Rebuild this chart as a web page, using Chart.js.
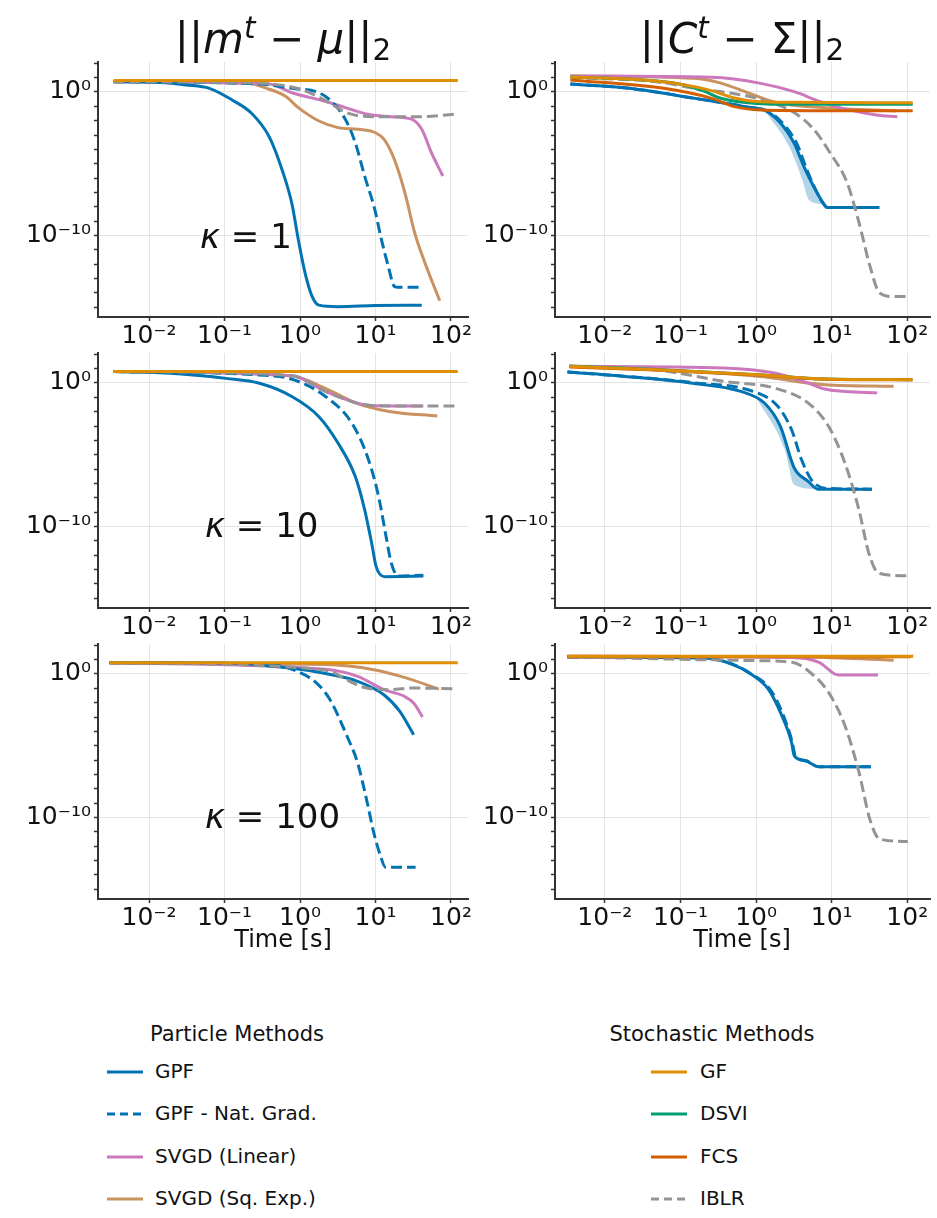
<!DOCTYPE html>
<html><head><meta charset="utf-8">
<script src="https://cdn.jsdelivr.net/npm/chart.js@4.4.1/dist/chart.umd.min.js"></script>
<style>
html,body{margin:0;padding:0;background:#fff;}
body{width:937px;height:1218px;position:relative;overflow:hidden;font-family:'DejaVu Sans',sans-serif;color:#111;}
canvas{position:absolute;}
.ttl{position:absolute;width:400px;text-align:center;font-size:42px;line-height:1;white-space:nowrap;}
.ttl sup{font-size:0.7em;vertical-align:0.5em;line-height:0;font-style:italic;}
.ttl sub{font-size:0.7em;vertical-align:-0.25em;line-height:0;}
.kap{position:absolute;font-size:34px;line-height:1;white-space:nowrap;}
.xt{position:absolute;width:300px;text-align:center;font-size:24px;line-height:1;}
.lgt{position:absolute;font-size:21px;line-height:1;white-space:nowrap;}
.lgi{position:absolute;font-size:20px;line-height:1;white-space:nowrap;}
.lgl{position:absolute;}
</style></head>
<body>
<canvas id="c00" width="500" height="320" style="left:0;top:42px"></canvas>
<canvas id="c01" width="477" height="320" style="left:460px;top:42px"></canvas>
<canvas id="c10" width="500" height="320" style="left:0;top:333px"></canvas>
<canvas id="c11" width="477" height="320" style="left:460px;top:333px"></canvas>
<canvas id="c20" width="500" height="320" style="left:0;top:624px"></canvas>
<canvas id="c21" width="477" height="320" style="left:460px;top:624px"></canvas>

<div class="ttl" style="left:83px;top:18px">||<i>m</i><sup>t</sup> − <i>μ</i>||<sub>2</sub></div>
<div class="ttl" style="left:542px;top:18px">||<i>C</i><sup>t</sup> − Σ||<sub>2</sub></div>

<div class="kap" style="left:200px;top:219px"><i>κ</i> = 1</div>
<div class="kap" style="left:205px;top:508px"><i>κ</i> = 10</div>
<div class="kap" style="left:205px;top:799px"><i>κ</i> = 100</div>

<div class="xt" style="left:133px;top:927px">Time [s]</div>
<div class="xt" style="left:592px;top:927px">Time [s]</div>

<div id="legend"></div>

<script>
// ---------- tick values / labels ----------
const X_TICK_VALUES = [0.01, 0.1, 1, 10, 100];
const X_TICK_LABELS = ['10⁻²', '10⁻¹', '10⁰', '10¹', '10²'];
const Y_TICK_VALUES = [1e-15,1e-14,1e-13,1e-12,1e-11,1e-10,1e-9,1e-8,1e-7,1e-6,1e-5,1e-4,1e-3,1e-2,1e-1,1,10,100];
const Y_TICK_LABELS = ['','','','','','10⁻¹⁰','','','','','','','','','','10⁰','',''];

// ---------- series: [time (s), error] ----------
// kappa = 1, mean error
const GF_K1_M    = [[0.0034,6.2],[1,6.2],[123,6.2]];
const GPF_K1_M   = [[0.0034,5.2],[0.014,4.6],[0.031,3.1],[0.063,1.8],[0.126,0.28],[0.23,0.032],[0.39,7.8e-4],[0.58,3.7e-6],[0.78,1.7e-8],[0.95,5e-11],[1.17,2.3e-13],[1.45,5.5e-15],[1.78,1.4e-15],[3.2,1.1e-15],[10,1.3e-15],[41,1.4e-15]];
const GPFN_K1_M  = [[0.0034,5.2],[0.29,3.6],[0.78,1.8],[1.78,0.89],[2.6,0.23],[4.0,0.012],[5.4,2.9e-4],[7.2,1.3e-6],[9.8,6.3e-9],[12,5e-11],[14.8,6.8e-13],[17.8,2.8e-14],[20,2.5e-14],[41,2.5e-14]];
const SVGDL_K1_M = [[0.0034,5.2],[0.39,3.6],[0.78,0.89],[2.1,0.23],[4.0,0.081],[7.9,0.028],[16,0.019],[30,0.013],[41,2.5e-3],[55,5.9e-5],[78,1.4e-6]];
const SVGDS_K1_M = [[0.0034,5.2],[0.2,4.0],[0.36,1.8],[0.65,0.48],[0.95,0.081],[1.78,9.5e-3],[3.2,3.3e-3],[5.9,2.5e-3],[9.8,1.5e-3],[13,5e-4],[17.8,2e-5],[24.5,9.8e-8],[33,1.6e-10],[45,1.3e-12],[71,2.8e-15]];
const IBLR_K1_M  = [[0.0034,5.2],[0.3,4.0],[1,1.6],[2,0.32],[4.4,0.032],[9.8,0.019],[40,0.019],[110,0.028]];

// kappa = 1, covariance error
const GF_K1_C    = [[0.0035,11],[0.03,7],[0.1,3.5],[0.25,1.3],[0.5,0.4],[1,0.22],[3,0.19],[118,0.18]];
const DSVI_K1_C  = [[0.0035,11],[0.03,7],[0.1,3.5],[0.2,1.2],[0.35,0.35],[1,0.16],[3,0.14],[118,0.14]];
const FCS_K1_C   = [[0.0035,6.9],[0.06,1.8],[0.26,0.36],[0.52,0.095],[1.15,0.056],[10,0.05],[118,0.05]];
const SVGDL_K1_C = [[0.0035,13],[0.26,10.5],[1.15,4],[3.2,1.05],[7.1,0.21],[14,0.072],[39,0.025],[74,0.019]];
const SVGDS_K1_C = [[0.0035,13],[0.15,9],[0.35,4],[0.78,0.89],[1.9,0.18],[8.7,0.081],[71,0.048]];
const IBLR_K1_C  = [[0.0035,10],[0.05,5],[0.19,1.45],[0.43,0.89],[1.15,0.31],[3.2,0.036],[5.8,2.5e-3],[9.5,5.9e-5],[16,4.8e-7],[23,7.9e-10],[32,7.9e-13],[43,1e-14],[65,5.5e-15],[107,5.5e-15]];
const GPF_K1_C   = [[0.0035,3.6],[0.021,1.8],[0.155,0.36],[0.71,0.095],[1.41,0.043],[2.3,3.9e-3],[3.2,2.6e-4],[4.3,6.3e-6],[5.8,2.5e-7],[7.8,1.7e-8],[8.7,8.9e-9],[43,8.9e-9]];
const GPFN_K1_C  = [[0.0035,3.6],[0.021,1.8],[0.155,0.36],[0.71,0.095],[1.5,0.04],[2.5,3.5e-3],[3.5,2.2e-4],[4.6,5e-6],[6.0,2e-7],[7.8,1.6e-8],[8.9,8.9e-9],[40,8.9e-9]];
const BAND_K1_C  = [[1.3,0.05],[2.75,1.5e-4],[4.1,7.4e-7],[5.0,3e-8],[7.5,1.5e-8],[8.7,8.9e-9]];

// kappa = 10, mean error
const GF_K10_M    = [[0.0034,6.2],[1,6.2],[123,6.2]];
const GPF_K10_M   = [[0.0034,6.2],[0.01,5.6],[0.038,3.6],[0.105,2.1],[0.29,0.95],[0.79,0.11],[1.78,4.5e-3],[3.2,6.3e-5],[5.4,3e-7],[7.2,1.4e-9],[8.9,6.8e-12],[10.2,1.6e-13],[13.2,3.2e-14],[43,3.5e-14]];
const GPFN_K10_M  = [[0.0034,6.2],[0.29,3.6],[0.79,1.8],[2.2,0.11],[4.9,1.5e-3],[8.1,4.3e-6],[11,1.2e-8],[13.8,2e-11],[16.2,2.8e-13],[20,3.5e-14],[43,4e-14]];
const SVGDL_K10_M = [[0.0034,6.2],[0.79,3.2],[2.2,0.25],[5.9,0.038],[9.8,0.026],[43,0.025]];
const SVGDS_K10_M = [[0.0034,6.2],[0.79,3.1],[2.2,0.4],[5.9,0.035],[16,0.01],[66,5e-3]];
const IBLR_K10_M  = [[0.0034,6.2],[0.79,3.2],[2.2,0.25],[5.9,0.038],[10,0.026],[43,0.025],[112,0.025]];

// kappa = 10, covariance error
const GF_K10_C    = [[0.0034,14.5],[0.049,8.5],[1.05,3.8],[8.1,1.9],[117,1.7]];
const DSVI_K10_C  = [[0.0034,15],[0.049,8.6],[1.05,3.8],[8.1,1.9],[117,1.7]];
const FCS_K10_C   = [[0.0034,13],[0.049,8],[1.05,3.6],[8.1,1.85],[117,1.65]];
const SVGDL_K10_C = [[0.0034,14.5],[0.38,11.2],[1.74,5],[4.9,1],[8.1,0.38],[40,0.2]];
const SVGDS_K10_C = [[0.0034,14.5],[1.05,2.95],[8.1,0.76],[66,0.59]];
const GPF_K10_C   = [[0.0032,5.9],[0.017,2.95],[0.135,1],[0.63,0.26],[1.29,0.04],[2.1,9.5e-4],[3.2,1.2e-6],[4.9,1.4e-7],[6.6,4e-8],[34,4e-8]];
const GPFN_K10_C  = [[0.0032,5.9],[0.135,1.1],[1.05,0.2],[1.95,0.023],[2.95,5.5e-4],[4.0,4.5e-6],[5.4,1.8e-7],[8.1,4.7e-8],[34,4e-8]];
const BAND_K10_C  = [[1.0,0.1],[2.4,2.2e-5],[3.2,8.1e-8],[6.6,4e-8]];
const IBLR_K10_C  = [[0.0034,14.5],[0.05,7.9],[0.38,1.3],[1.74,0.45],[4.9,0.04],[9.1,9.5e-4],[15,2.6e-6],[23,1.4e-9],[31,1.4e-12],[42,5.5e-14],[105,3.6e-14]];

// kappa = 100, mean error
const GF_K100_M    = [[0.003,6.0],[1,6.0],[123,6.0]];
const GPF_K100_M   = [[0.003,6.0],[0.095,5.9],[0.74,2.6],[2.0,1.17],[5.8,0.31],[12.9,0.036],[21,2.5e-3],[32,5.9e-5]];
const GPFN_K100_M  = [[0.003,6.0],[0.44,4.5],[0.91,1.55],[1.66,0.23],[2.5,0.016],[4.2,4.6e-5],[5.8,6.3e-7],[7.8,1e-9],[9.5,8.3e-12],[11.7,2e-13],[13.5,3.4e-14],[34,3.4e-14]];
const SVGDL_K100_M = [[0.003,6.0],[2.0,2.2],[5.8,0.69],[12.9,0.081],[24,0.028],[32,9.5e-3],[42,1e-3]];
const SVGDS_K100_M = [[0.003,6.0],[2.0,4.5],[9.5,2.0],[26,0.52],[69,0.089]];
const IBLR_K100_M  = [[0.003,6.0],[2.0,2.0],[6.9,0.12],[16,0.081],[30,0.105],[110,0.095]];

// kappa = 100, covariance error
const GF_K100_C    = [[0.0032,17],[1,17],[120,17]];
const DSVI_K100_C  = [[0.0032,16.5],[1,16.5],[110,16.5]];
const FCS_K100_C   = [[0.0032,16],[1,16],[110,16]];
const SVGDS_K100_C = [[0.0032,17],[3.2,16],[66,9]];
const SVGDL_K100_C = [[0.0032,17],[3.0,14],[6.8,6.5],[12.3,0.85],[41,0.85]];
const GPF_K100_C   = [[0.0032,15.5],[0.22,12.3],[0.47,5],[0.85,1],[1.45,0.089],[2.1,2.1e-3],[2.95,1.7e-5],[3.2,2e-6],[4.5,8.9e-7],[6.8,3.4e-7],[33,3.4e-7]];
const GPFN_K100_C  = [[0.0032,15.5],[0.22,12.3],[0.47,5.2],[0.85,1.05],[1.5,0.1],[2.2,2.3e-3],[3.0,1.9e-5],[3.3,2e-6],[4.6,8.9e-7],[6.8,3.4e-7],[33,3.4e-7]];
const IBLR_K100_C  = [[0.0032,15.5],[1.05,8.5],[3.0,6.5],[5.5,1],[9.1,0.052],[15,2.5e-4],[23,1.4e-7],[32,7.6e-11],[43,3.2e-12],[102,2.1e-12]];

// ---------- styling ----------
const FONT = "'DejaVu Sans', sans-serif";
const COLORS = {GPF:'#0173b2', GPFN:'#0173b2', GF:'#de8f05', DSVI:'#029e73', FCS:'#d55e00', SVGDL:'#cc78bc', SVGDS:'#ca9161', IBLR:'#949494'};
const DASHED = {GPFN:true, IBLR:true};
const ORDER = {GF:1, DSVI:3, FCS:2, IBLR:4, GPF:5, GPFN:6, SVGDL:7, SVGDS:8};
const NAMES = {GPF:'GPF', GPFN:'GPF - Nat. Grad.', SVGDL:'SVGD (Linear)', SVGDS:'SVGD (Sq. Exp.)', GF:'GF', DSVI:'DSVI', FCS:'FCS', IBLR:'IBLR'};

const X_RANGE_LEFT  = [0.00211, 168];
const X_RANGE_RIGHT = [0.00219, 200];
const Y_RANGE = [2.09e-16, 123];

function toXY(arr){ return arr.map(p => ({x:p[0], y:p[1]})); }
function lineDs(key, arr){
  return {label:NAMES[key], data:toXY(arr), borderColor:COLORS[key], backgroundColor:COLORS[key],
    borderDash: DASHED[key] ? [11,5] : [], borderWidth:3, pointRadius:0, fill:false,
    order:ORDER[key], cubicInterpolationMode:'monotone', borderCapStyle:'butt'};
}
function bandDs(arr, target){
  return {label:'band', data:toXY(arr), borderColor:'rgba(0,0,0,0)', borderWidth:0, pointRadius:0,
    backgroundColor:'rgba(1,115,178,0.3)', fill:target, order:50, cubicInterpolationMode:'monotone'};
}

function panel(id, col, series, band){
  const ds = [];
  let gpfIdx = -1;
  series.forEach(([key, arr]) => { if (key === 'GPF') gpfIdx = ds.length; ds.push(lineDs(key, arr)); });
  if (band) ds.push(bandDs(band, gpfIdx));
  const xr = col === 0 ? X_RANGE_LEFT : X_RANGE_RIGHT;
  const yWidth = col === 0 ? 98 : 95;
  const padRight = col === 0 ? 32 : 7;
  new Chart(document.getElementById(id), {
    type:'line',
    data:{datasets:ds},
    options:{
      responsive:false, animation:false, events:[],
      layout:{padding:{top:20, left:0, right:padRight, bottom:0}},
      plugins:{legend:{display:false}, tooltip:{enabled:false}, title:{display:false}},
      scales:{
        x:{type:'logarithmic', min:xr[0], max:xr[1],
          afterBuildTicks:s => { s.ticks = X_TICK_VALUES.map(v => ({value:v})); },
          afterFit:s => { s.height = 45; },
          ticks:{callback:(v,i) => X_TICK_LABELS[i], autoSkip:false, maxRotation:0, padding:0,
                 color:'#111', font:{family:FONT, size:25}},
          grid:{color:'#e4e4e4', lineWidth:1, tickColor:'#333', tickLength:4, tickWidth:1.5},
          border:{color:'#333', width:2}},
        y:{type:'logarithmic', min:Y_RANGE[0], max:Y_RANGE[1],
          afterBuildTicks:s => { s.ticks = Y_TICK_VALUES.map(v => ({value:v})); },
          afterFit:s => { s.width = yWidth; },
          ticks:{callback:(v,i) => Y_TICK_LABELS[i], autoSkip:false, padding:3,
                 color:'#111', font:{family:FONT, size:25}},
          grid:{color:ctx => (Y_TICK_LABELS[ctx.index] ? '#e4e4e4' : 'rgba(0,0,0,0)'), lineWidth:1,
                tickColor:'#333', tickLength:4, tickWidth:1.5},
          border:{color:'#333', width:2}}
      }
    }
  });
}

panel('c00', 0, [['GF',GF_K1_M],['IBLR',IBLR_K1_M],['GPF',GPF_K1_M],['GPFN',GPFN_K1_M],['SVGDL',SVGDL_K1_M],['SVGDS',SVGDS_K1_M]]);
panel('c01', 1, [['GF',GF_K1_C],['DSVI',DSVI_K1_C],['FCS',FCS_K1_C],['IBLR',IBLR_K1_C],['GPF',GPF_K1_C],['GPFN',GPFN_K1_C],['SVGDL',SVGDL_K1_C],['SVGDS',SVGDS_K1_C]], BAND_K1_C);
panel('c10', 0, [['GF',GF_K10_M],['IBLR',IBLR_K10_M],['GPF',GPF_K10_M],['GPFN',GPFN_K10_M],['SVGDL',SVGDL_K10_M],['SVGDS',SVGDS_K10_M]]);
panel('c11', 1, [['GF',GF_K10_C],['DSVI',DSVI_K10_C],['FCS',FCS_K10_C],['IBLR',IBLR_K10_C],['GPF',GPF_K10_C],['GPFN',GPFN_K10_C],['SVGDL',SVGDL_K10_C],['SVGDS',SVGDS_K10_C]], BAND_K10_C);
panel('c20', 0, [['GF',GF_K100_M],['IBLR',IBLR_K100_M],['GPF',GPF_K100_M],['GPFN',GPFN_K100_M],['SVGDL',SVGDL_K100_M],['SVGDS',SVGDS_K100_M]]);
panel('c21', 1, [['GF',GF_K100_C],['DSVI',DSVI_K100_C],['FCS',FCS_K100_C],['IBLR',IBLR_K100_C],['GPF',GPF_K100_C],['GPFN',GPFN_K100_C],['SVGDL',SVGDL_K100_C],['SVGDS',SVGDS_K100_C]]);

// ---------- legend (HTML) ----------
const LEGEND_GROUPS = [
  {title:'Particle Methods', keys:['GPF','GPFN','SVGDL','SVGDS'], titleCenter:237, lineX:107, textX:155},
  {title:'Stochastic Methods', keys:['GF','DSVI','FCS','IBLR'], titleCenter:712, lineX:651, textX:700}
];
const LEGEND_ROWS_Y = [1072, 1114, 1157, 1199];
const lg = document.getElementById('legend');
LEGEND_GROUPS.forEach(g => {
  const t = document.createElement('div');
  t.className = 'lgt'; t.textContent = g.title;
  t.style.left = (g.titleCenter - 150) + 'px'; t.style.width = '300px'; t.style.textAlign = 'center';
  t.style.top = '1024px';
  lg.appendChild(t);
  g.keys.forEach((k, i) => {
    const yc = LEGEND_ROWS_Y[i];
    const svg = document.createElementNS('http://www.w3.org/2000/svg','svg');
    svg.setAttribute('class','lgl'); svg.setAttribute('width','36'); svg.setAttribute('height','10');
    svg.style.left = g.lineX + 'px'; svg.style.top = (yc - 5) + 'px';
    const ln = document.createElementNS('http://www.w3.org/2000/svg','line');
    ln.setAttribute('x1','0'); ln.setAttribute('x2','36'); ln.setAttribute('y1','5'); ln.setAttribute('y2','5');
    ln.setAttribute('stroke', COLORS[k]); ln.setAttribute('stroke-width','3');
    if (DASHED[k]) ln.setAttribute('stroke-dasharray','8,5');
    svg.appendChild(ln); lg.appendChild(svg);
    const tx = document.createElement('div');
    tx.className = 'lgi'; tx.textContent = NAMES[k];
    tx.style.left = g.textX + 'px'; tx.style.top = (yc - 11) + 'px';
    lg.appendChild(tx);
  });
});
</script>
</body></html>
